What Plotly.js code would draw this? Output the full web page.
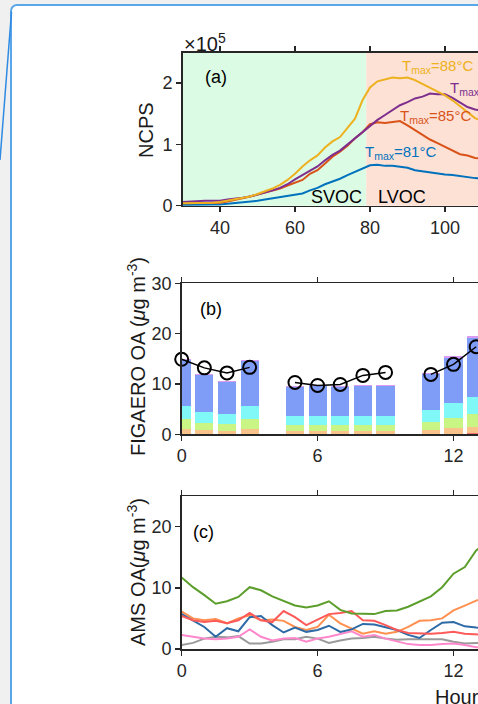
<!DOCTYPE html>
<html>
<head>
<meta charset="utf-8">
<script src="https://cdn.plot.ly/plotly-3.0.1.min.js"></script>
<style>
  html, body { margin: 0; padding: 0; width: 478px; height: 704px; overflow: hidden; background: #f0f0f0; }
  #card { position: absolute; left: 10px; top: 4px; width: 700px; height: 800px; background: #ffffff;
          border: 2px solid #5aa6ea; border-radius: 7px; box-sizing: border-box; }
  #plot { position: absolute; left: 0; top: 0; }
</style>
</head>
<body>
<div id="card"></div>
<div id="plot"></div>
<script>
// ---------- Panel (a): thermograms, NCPS in units of 1e5 ----------
const tdesX = [30,32,34,36,38,40,42,44,46,48,50,52,54,56,58,60,62,64,66,68,70,72,74,76,78,80,82,84,86,88,90,92,94,96,98,100,102,104,106,108,110];
const ncps81 = [0.01,0.01,0.01,0.02,0.02,0.02,0.03,0.04,0.05,0.07,0.08,0.10,0.12,0.14,0.16,0.18,0.20,0.25,0.29,0.35,0.39,0.44,0.50,0.55,0.61,0.66,0.67,0.65,0.65,0.64,0.62,0.58,0.56,0.55,0.53,0.51,0.50,0.48,0.46,0.45,0.44];
const ncps85 = [0.04,0.04,0.04,0.04,0.05,0.05,0.07,0.09,0.12,0.15,0.18,0.21,0.25,0.28,0.33,0.37,0.42,0.52,0.58,0.69,0.80,0.88,0.98,1.10,1.20,1.33,1.36,1.35,1.37,1.38,1.31,1.23,1.15,1.08,1.02,0.96,0.90,0.84,0.82,0.78,0.77];
const ncps88 = [0.04,0.04,0.05,0.05,0.05,0.06,0.08,0.10,0.12,0.15,0.19,0.23,0.28,0.34,0.42,0.52,0.64,0.74,0.82,0.95,1.05,1.12,1.28,1.42,1.72,1.93,2.03,2.06,2.09,2.08,2.09,2.05,1.99,1.93,1.86,1.80,1.72,1.62,1.52,1.43,1.38];
const ncpsP  = [0.06,0.07,0.07,0.08,0.08,0.08,0.10,0.11,0.13,0.15,0.18,0.21,0.25,0.29,0.35,0.43,0.50,0.58,0.64,0.74,0.83,0.90,1.00,1.10,1.20,1.31,1.40,1.48,1.56,1.64,1.69,1.75,1.78,1.83,1.82,1.82,1.76,1.68,1.61,1.57,1.55];
const svocEnd = 79;
const tdesMin = 30, tdesMax = 170;

// ---------- Panel (b): FIGAERO OA stacked bars ----------
const hoursB = [0,1,2,3,5,6,7,8,9,11,12,13];
const fRed    = [0.10,0.10,0.10,0.10,0.05,0.05,0.05,0.05,0.05,0.10,0.15,0.30];
const fOrange = [0.97,0.77,0.60,0.97,0.62,0.62,0.62,0.62,0.62,0.77,1.05,1.20];
const fLime   = [1.93,1.43,1.40,1.93,1.23,1.23,1.23,1.23,1.23,1.63,2.00,2.60];
const fCyan   = [2.70,2.20,2.00,2.70,1.70,1.80,1.70,1.80,1.80,2.30,3.00,3.40];
const fBlue   = [9.10,7.20,6.30,8.90,5.75,5.85,5.75,5.95,5.85,7.25,8.90,11.60];
const fViolet = [0.20,0.20,0.20,0.20,0.15,0.15,0.15,0.15,0.15,0.15,0.40,0.50];
const circHours = [0,1,2,3,4,5,6,7,8,9,10,11,12,13];
const circVals  = [14.9,13.2,12.2,13.3,null,10.3,9.7,9.9,11.7,12.3,null,11.9,13.9,17.4];

// ---------- Panel (c): AMS OA factors (half-hourly) ----------
const hoursC = [0,0.5,1,1.5,2,2.5,3,3.5,4,4.5,5,5.5,6,6.5,7,7.5,8,8.5,9,9.5,10,10.5,11,11.5,12,12.5,13,13.5];
const amsGreen  = [11.7,10.1,8.8,7.4,7.8,8.5,10.1,9.6,8.6,7.8,7.1,6.8,7.1,7.8,6.4,5.8,5.8,5.7,6.2,6.3,6.9,7.8,8.6,10.1,12.3,13.4,16.1,17.5];
const amsOrange = [6.1,5.0,4.7,4.9,4.2,5.0,5.5,4.7,4.8,4.6,3.6,3.1,3.6,5.6,4.2,3.4,2.5,2.9,2.5,2.8,3.6,4.6,4.7,5.0,6.3,7.1,7.9,8.5];
const amsBlue   = [5.7,4.7,3.6,2.0,3.4,2.9,5.2,5.4,3.9,2.7,3.5,2.8,3.1,3.8,2.8,3.2,4.1,4.0,3.6,3.1,2.3,1.8,3.1,4.3,4.4,3.7,3.5,3.4];
const amsRed    = [5.4,4.7,4.4,4.6,4.2,4.7,5.9,4.7,4.4,6.2,5.2,3.9,4.8,5.7,5.9,6.2,4.7,4.6,3.9,3.1,2.6,2.5,2.5,2.6,2.8,2.5,2.4,2.3];
const amsPink   = [2.3,2.0,1.7,1.6,1.7,2.0,3.2,2.0,1.4,1.7,1.8,1.2,1.7,2.0,2.5,2.9,2.0,2.3,1.7,1.2,0.8,0.65,0.65,0.8,0.9,0.65,0.3,0.3];
const amsGrey   = [0.65,1.0,1.7,2.0,1.9,2.1,0.9,0.9,1.2,1.6,1.6,2.0,1.7,1.0,1.4,1.7,1.8,2.0,1.7,1.5,1.6,1.6,1.6,1.6,1.2,0.9,1.0,1.0];

// ---------- layout helpers ----------
const W = 760, H = 704;
const px = x => x / W;
const py = y => 1 - y / H;
const FONT = 'Liberation Sans, Arial, Helvetica, sans-serif';
const AX = '#262626';

function axisStyle(extra) {
  return Object.assign({
    showline: true, mirror: 'ticks', linecolor: AX, linewidth: 1.5,
    ticks: 'outside', ticklen: 5, tickwidth: 1.5, tickcolor: AX,
    showgrid: false, zeroline: false, fixedrange: true,
    tickfont: { family: FONT, size: 18, color: AX }
  }, extra);
}

const traces = [];
// panel a lines
[[ncps81,'#0072bd'],[ncps85,'#d95319'],[ncpsP,'#7e2f8e'],[ncps88,'#edb120']].forEach(([v,c]) => {
  traces.push({ x: tdesX, y: v, type: 'scatter', mode: 'lines', xaxis: 'x', yaxis: 'y',
    line: { color: c, width: 2 }, hoverinfo: 'skip', showlegend: false });
});
// panel b bars
[[fRed,'#f57070'],[fOrange,'#f9c48c'],[fLime,'#c8f584'],[fCyan,'#80f8f8'],[fBlue,'#7f9cf6'],[fViolet,'#d89cf2']].forEach(([v,c]) => {
  traces.push({ x: hoursB, y: v, type: 'bar', width: 0.8, xaxis: 'x2', yaxis: 'y2',
    marker: { color: c, line: { width: 0 } }, hoverinfo: 'skip', showlegend: false });
});
traces.push({ x: circHours, y: circVals, type: 'scatter', mode: 'lines+markers', xaxis: 'x2', yaxis: 'y2',
  connectgaps: false, cliponaxis: false,
  line: { color: '#000000', width: 1.5 },
  marker: { symbol: 'circle-open', size: 13, color: '#000000', line: { width: 2, color: '#000000' } },
  hoverinfo: 'skip', showlegend: false });
// panel c lines
[[amsGrey,'#9a9a9a'],[amsPink,'#ff88cc'],[amsOrange,'#ff9050'],[amsBlue,'#2d6aa6'],[amsRed,'#ff5a5a'],[amsGreen,'#5c9e2c']].forEach(([v,c]) => {
  traces.push({ x: hoursC, y: v, type: 'scatter', mode: 'lines', xaxis: 'x3', yaxis: 'y3',
    line: { color: c, width: 2 }, hoverinfo: 'skip', showlegend: false });
});

const ann = (x, y, text, o) => Object.assign({ xref: 'paper', yref: 'paper', x: px(x), y: py(y), text: text,
  xanchor: 'center', yanchor: 'middle', showarrow: false,
  font: { family: FONT, size: 18, color: '#1a1a1a' } }, o || {});

const layout = {
  width: W, height: H,
  margin: { l: 0, r: 0, t: 0, b: 0 },
  paper_bgcolor: 'rgba(0,0,0,0)', plot_bgcolor: 'rgba(0,0,0,0)',
  barmode: 'stack', bargap: 0,
  xaxis: axisStyle({ domain: [px(182.5), px(707.5)], range: [tdesMin, tdesMax], anchor: 'y',
    tickvals: [40,60,80,100,120,140,160] }),
  yaxis: axisStyle({ domain: [py(205.7), py(52.5)], range: [0, 2.5], anchor: 'x', tickvals: [0,1,2] }),
  xaxis2: axisStyle({ domain: [px(181.7), px(725.3)], range: [0, 24], anchor: 'y2', tickvals: [0,6,12,18,24] }),
  yaxis2: axisStyle({ domain: [py(434.3), py(283.3)], range: [0, 30], anchor: 'x2', tickvals: [0,10,20,30] }),
  xaxis3: axisStyle({ domain: [px(181.7), px(725.3)], range: [0, 24], anchor: 'y3', tickvals: [0,6,12,18,24] }),
  yaxis3: axisStyle({ domain: [py(649), py(496)], range: [0, 25], anchor: 'x3', tickvals: [0,10,20] }),
  shapes: [
    { type: 'rect', xref: 'x', yref: 'y domain', x0: tdesMin, x1: svocEnd, y0: 0, y1: 1,
      fillcolor: '#dcfbe4', line: { width: 0 }, layer: 'below' },
    { type: 'rect', xref: 'x', yref: 'y domain', x0: svocEnd, x1: tdesMax, y0: 0, y1: 1,
      fillcolor: '#fde1d5', line: { width: 0 }, layer: 'below' },
    { type: 'line', xref: 'paper', yref: 'paper', x0: px(11.5), y0: py(12), x1: px(0), y1: py(160),
      line: { color: '#2f8ae2', width: 1.5 } }
  ],
  annotations: [
    ann(146, 130, 'NCPS', { textangle: -90, font: { family: FONT, size: 20, color: '#1a1a1a' } }),
    ann(136, 357, 'FIGAERO OA (<i>μ</i>g m<sup>-3</sup>)', { textangle: -90, font: { family: FONT, size: 20, color: '#1a1a1a' } }),
    ann(136, 572, 'AMS OA(<i>μ</i>g m<sup>-3</sup>)', { textangle: -90, font: { family: FONT, size: 20, color: '#1a1a1a' } }),
    ann(182, 42, '×10<sup>5</sup>', { xanchor: 'left', font: { family: FONT, size: 20, color: '#1a1a1a' } }),
    ann(216, 77, '(a)', { font: { family: FONT, size: 18, color: '#000' } }),
    ann(211, 309, '(b)', { font: { family: FONT, size: 18, color: '#000' } }),
    ann(203, 532, '(c)', { font: { family: FONT, size: 18, color: '#000' } }),
    ann(336, 197, 'SVOC', { font: { family: FONT, size: 18, color: '#000' } }),
    ann(402, 197, 'LVOC', { font: { family: FONT, size: 18, color: '#000' } }),
    ann(400, 66, 'T<sub>max</sub>=88°C', { xanchor: 'left', font: { family: FONT, size: 15, color: '#edb120' } }),
    ann(448, 88, 'T<sub>max</sub>', { xanchor: 'left', font: { family: FONT, size: 15, color: '#7e2f8e' } }),
    ann(398, 116, 'T<sub>max</sub>=85°C', { xanchor: 'left', font: { family: FONT, size: 15, color: '#d95319' } }),
    ann(363, 153, 'T<sub>max</sub>=81°C', { xanchor: 'left', font: { family: FONT, size: 15, color: '#0072bd' } }),
    ann(433, 697, 'Hour of day', { xanchor: 'left', font: { family: FONT, size: 20, color: '#1a1a1a' } })
  ]
};

Plotly.newPlot('plot', traces, layout, { staticPlot: true, displayModeBar: false });
</script>
</body>
</html>
